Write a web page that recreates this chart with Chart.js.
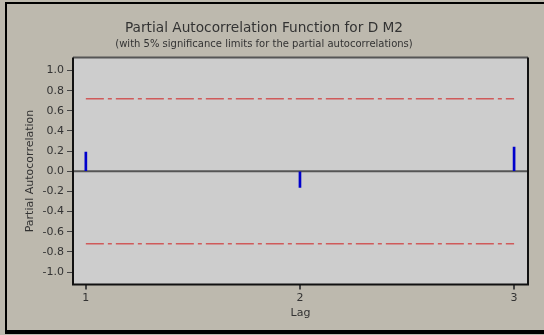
<!DOCTYPE html>
<html>
<head>
<meta charset="utf-8">
<script src="https://cdn.jsdelivr.net/npm/chart.js@4"></script>
<style>
  html, body { margin: 0; padding: 0; background: #bdb9ae; }
  #wrap { position: relative; width: 544px; height: 335px; }
  #frame { position: absolute; left: 5px; top: 2px; right: 0; bottom: 1px;
           border-left: 2px solid #000; border-top: 2px solid #000; border-bottom: 4px solid #000; }
  canvas { position: absolute; left: 0; top: 0; }
</style>
</head>
<body>
<div id="wrap">
  <div id="frame"></div>
  <canvas id="myChart" width="544" height="335"></canvas>
</div>
<script>
// data
const lags = [1, 2, 3];
const pacf = [0.19, -0.16, 0.24];
const upperLimit = [0.72, 0.72, 0.72];
const lowerLimit = [-0.72, -0.72, -0.72];
const yTicks = [-1.0, -0.8, -0.6, -0.4, -0.2, 0.0, 0.2, 0.4, 0.6, 0.8, 1.0];
const xTicks = [1, 2, 3];

const font = "'DejaVu Sans', sans-serif";

// plot background, zero line and box
const plotBox = {
  id: 'plotBox',
  beforeDatasetsDraw(chart) {
    const { ctx, chartArea: a, scales } = chart;
    const y0 = scales.y.getPixelForValue(0);
    ctx.save();
    ctx.strokeStyle = '#555';
    ctx.lineWidth = 2;
    ctx.beginPath();
    ctx.moveTo(a.left, y0);
    ctx.lineTo(a.right, y0);
    ctx.stroke();
    ctx.restore();
  },
  beforeDraw(chart) {
    const { ctx, chartArea: a } = chart;
    ctx.save();
    ctx.fillStyle = '#cdcdcd';
    ctx.fillRect(a.left, a.top, a.right - a.left, a.bottom - a.top);
    ctx.restore();
  },
  afterDraw(chart) {
    const { ctx, chartArea: a } = chart;
    ctx.save();
    ctx.lineWidth = 2;
    ctx.strokeStyle = '#555';
    ctx.beginPath();
    ctx.moveTo(a.left, a.top); ctx.lineTo(a.right, a.top);
    ctx.stroke();
    ctx.strokeStyle = '#111';
    ctx.beginPath();
    ctx.moveTo(a.right, a.top); ctx.lineTo(a.right, a.bottom); ctx.lineTo(a.left, a.bottom); ctx.lineTo(a.left, a.top);
    ctx.stroke();
    ctx.restore();
  }
};

const limitStyle = {
  type: 'line',
  borderColor: '#d05a5a',
  borderWidth: 1.5,
  borderDash: [18, 4, 4, 4],
  pointRadius: 0,
  fill: false
};

const data = {
  datasets: [
    {
      type: 'bar',
      label: 'PACF',
      data: lags.map((l, i) => ({ x: l, y: pacf[i] })),
      backgroundColor: '#0000cc',
      barThickness: 2
    },
    Object.assign({ label: 'upper', data: lags.map((l, i) => ({ x: l, y: upperLimit[i] })) }, limitStyle),
    Object.assign({ label: 'lower', data: lags.map((l, i) => ({ x: l, y: lowerLimit[i] })) }, limitStyle)
  ]
};

const config = {
  type: 'bar',
  data,
  options: {
    responsive: false,
    animation: false,
    layout: { padding: { left: 0, right: 16, top: 10, bottom: 15 } },
    plugins: {
      legend: { display: false },
      tooltip: { enabled: false },
      title: {
        display: true,
        text: 'Partial Autocorrelation Function for D M2',
        color: '#333',
        font: { family: font, size: 13.7, weight: 'normal' },
        padding: { top: 10, bottom: 2 }
      },
      subtitle: {
        display: true,
        text: '(with 5% significance limits for the partial autocorrelations)',
        color: '#333',
        font: { family: font, size: 10, weight: 'normal' },
        padding: { bottom: 7 }
      }
    },
    scales: {
      x: {
        type: 'linear',
        min: 0.94,
        max: 3.065,
        offset: false,
        afterBuildTicks: axis => { axis.ticks = xTicks.map(v => ({ value: v })); },
        grid: { offset: false, drawOnChartArea: false, drawTicks: true, tickLength: 5, color: '#444', lineWidth: 2 },
        border: { display: false },
        ticks: { color: '#333', font: { family: font, size: 11 }, padding: 2, maxRotation: 0 },
        title: { display: true, text: 'Lag', color: '#333', font: { family: font, size: 11 }, padding: 0 }
      },
      y: {
        min: -1.125,
        max: 1.13,
        afterBuildTicks: axis => { axis.ticks = yTicks.map(v => ({ value: v })); },
        afterFit: axis => { axis.width = 73; },
        grid: { drawOnChartArea: false, drawTicks: true, tickLength: 6, color: '#444', lineWidth: 1 },
        border: { display: false },
        ticks: {
          color: '#333',
          font: { family: font, size: 11 },
          padding: 3,
          callback: v => v.toFixed(1)
        },
        title: { display: true, text: 'Partial Autocorrelation', color: '#333', font: { family: font, size: 11 }, padding: { top: 24, bottom: 0 } }
      }
    }
  },
  plugins: [plotBox]
};

const myChart = new Chart(document.getElementById('myChart'), config);
</script>
</body>
</html>
